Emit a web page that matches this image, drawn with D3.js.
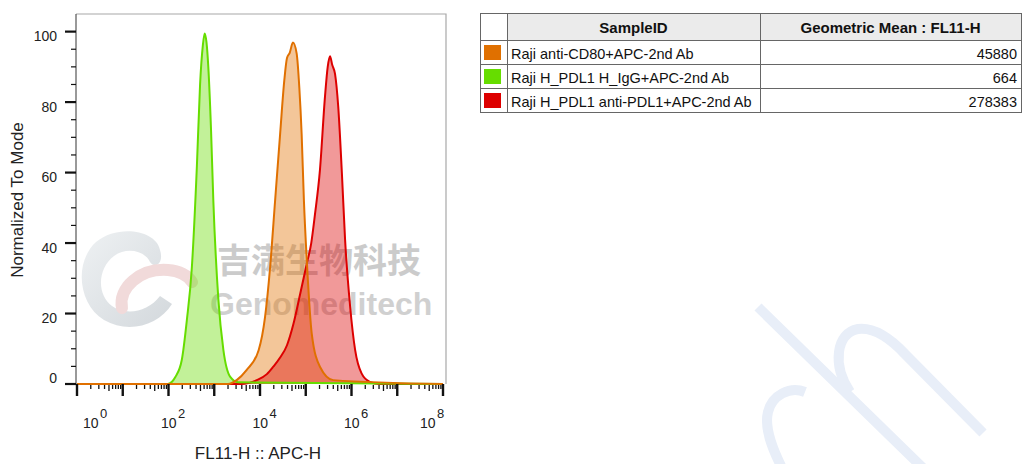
<!DOCTYPE html>
<html><head><meta charset="utf-8">
<script src="https://cdn.jsdelivr.net/npm/d3@7"></script>
<style>body{margin:0;background:#fff} svg{display:block;font-family:"Liberation Sans",Arial,Helvetica,sans-serif}</style>
</head><body><svg id="c" width="1024" height="464"></svg>
<script>
// ---- data ----
const samples = ["Raji anti-CD80+APC-2nd Ab", "Raji H_PDL1 H_IgG+APC-2nd Ab", "Raji H_PDL1 anti-PDL1+APC-2nd Ab"];
const geoMeans = [45880, 664, 278383];
const seriesColors = ["#e07000", "#66dd00", "#dd0000"];
const fillOpacity = [0.4, 0.4, 0.4];
// FL11-H channel positions as log10 exponents, with normalized-to-mode counts
const orangeExp = [0, 3.3, 3.49, 3.71, 3.97, 4.11, 4.22, 4.33, 4.44, 4.53, 4.59, 4.65, 4.72, 4.80, 4.86, 4.91, 4.96, 5.03, 5.13, 5.31, 5.6, 8];
const orangeVal = [0, 0, 1.1, 4, 9.6, 19, 33, 52, 71, 86, 92.5, 94, 96.9, 93.9, 84, 71, 52, 33.3, 14.4, 4.9, 1.1, 0];
const greenExp = [0, 1.98, 2.15, 2.29, 2.40, 2.51, 2.62, 2.69, 2.75, 2.79, 2.83, 2.87, 2.93, 2.98, 3.09, 3.20, 3.35, 3.52, 8];
const greenVal = [0, 0, 2, 6.8, 18, 33, 61.7, 85, 96, 99.5, 97, 90, 72, 52, 24, 9.6, 2, 0.5, 0];
const redExp = [0, 3.6, 3.93, 4.15, 4.29, 4.44, 4.59, 4.73, 4.88, 5.02, 5.12, 5.20, 5.31, 5.42, 5.48, 5.53, 5.58, 5.64, 5.71, 5.79, 5.86, 5.97, 6.08, 6.22, 6.40, 6.6, 8];
const redVal = [0, 0, 1.1, 2.8, 4.9, 7.5, 11, 17, 25.7, 34, 40, 48, 60.7, 81.5, 90, 93, 90.5, 88, 78.7, 59.8, 40.9, 22, 9.6, 3, 0.6, 0, 0];
const yTicks = [0, 20, 40, 60, 80, 100];
const xLabelExp = [0, 2, 4, 6, 8];
const xTitle = "FL11-H :: APC-H";
const yTitle = "Normalized To Mode";
const tableHeaders = ["SampleID", "Geometric Mean : FL11-H"];

// ---- chart ----
const svg = d3.select("#c");
const x = d3.scaleLog().domain([1, 1e8]).range([77, 443]);
const y = d3.scaleLinear().domain([0, 105]).range([384, 14]);

const series = [
  {exp: orangeExp, val: orangeVal, c: 0},
  {exp: greenExp, val: greenVal, c: 1},
  {exp: redExp, val: redVal, c: 2}
].map(s => ({c: s.c, pts: s.exp.map((e, i) => ({v: Math.pow(10, e), n: s.val[i]}))}));

// watermark (left logo + text)
const wm = svg.append("g");
const grad = svg.append("defs").append("linearGradient").attr("id", "lg").attr("x1", "0").attr("y1", "0").attr("x2", "1").attr("y2", "1");
grad.append("stop").attr("offset", "0").attr("stop-color", "#eef1f3");
grad.append("stop").attr("offset", "1").attr("stop-color", "#d3d8dc");
wm.append("path")
  .attr("d", "M160,250 C156,230 118,224 96,242 C74,262 78,304 104,320 C128,334 158,326 172,304 L160,296 C148,312 126,316 112,306 C96,294 98,268 114,256 C128,246 146,252 150,262 C156,270 164,262 160,250 Z")
  .attr("fill", "url(#lg)");
wm.append("path")
  .attr("d", "M122,308 C118,288 140,268 168,270 C180,271 188,276 192,282")
  .attr("fill", "none").attr("stroke", "#f1dada").attr("stroke-width", 12).attr("stroke-linecap", "round");
wm.append("text").attr("x", 217).attr("y", 273).attr("font-size", 34).attr("font-weight", "bold")
  .attr("font-family", "'Noto Sans CJK SC', sans-serif").attr("fill", "#999").attr("opacity", 0.5).text("吉满生物科技");
wm.append("text").attr("x", 210).attr("y", 315).attr("font-size", 32).attr("font-weight", "bold")
  .attr("fill", "#999").attr("opacity", 0.45).text("Genomeditech");

// bottom-right watermark strokes
const wm2 = svg.append("g").attr("fill", "none").attr("stroke", "#e8eef8").attr("stroke-width", 10);
wm2.append("path").attr("d", "M758,307 L925,470");
wm2.append("path").attr("d", "M850,392 C832,365 836,333 858,329 C874,327 890,338 905,354 L983,433");
wm2.append("path").attr("d", "M805,392 C790,386 772,395 768,412 C764,428 772,448 782,468");

// frame
svg.append("path").attr("d", "M76,14 H446 V384").attr("fill", "none").attr("stroke", "#a8a8a8").attr("stroke-width", 1.2);

const area = d3.area().x(d => x(d.v)).y0(y(0)).y1(d => y(d.n)).curve(d3.curveMonotoneX);
const line = d3.line().x(d => x(d.v)).y(d => y(d.n)).curve(d3.curveMonotoneX);

// fills
[1, 0, 2].forEach(i => {
  svg.append("path").datum(series[i].pts).attr("d", area)
    .attr("fill", seriesColors[series[i].c]).attr("fill-opacity", fillOpacity[series[i].c]);
});
// lines
[2, 1, 0].forEach(i => {
  svg.append("path").datum(series[i].pts).attr("d", line)
    .attr("fill", "none").attr("stroke", seriesColors[series[i].c]).attr("stroke-width", 2).attr("stroke-linejoin", "round");
});

// y axis
const yAxisG = svg.append("g");
yAxisG.append("line").attr("x1", 76).attr("x2", 76).attr("y1", 14).attr("y2", 385).attr("stroke", "#555").attr("stroke-width", 1.2);
const yMinor = d3.range(0, 105, 5).filter(v => v % 20 !== 0);
yAxisG.selectAll(".ym").data(yMinor).join("line")
  .attr("x1", 71).attr("x2", 76).attr("y1", d => y(d)).attr("y2", d => y(d)).attr("stroke", "#111").attr("stroke-width", 1.2);
yAxisG.selectAll(".yM").data(yTicks).join("line")
  .attr("x1", 65).attr("x2", 76).attr("y1", d => y(d)).attr("y2", d => y(d)).attr("stroke", "#111").attr("stroke-width", 2.2);
yAxisG.selectAll("text").data(yTicks).join("text")
  .attr("x", 57).attr("y", d => d === 0 ? y(d) - 1 : y(d) + 9.5)
  .attr("text-anchor", "end").attr("font-size", 14).attr("fill", "#222").text(d => d);

// x axis
const xAxisG = svg.append("g");
const decades = d3.range(0, 9);
const xMinor = [];
decades.slice(0, 8).forEach(e => { for (let k = 2; k <= 9; k++) xMinor.push({v: k * Math.pow(10, e), k}); });
xAxisG.selectAll(".xm").data(xMinor).join("line")
  .attr("x1", d => x(d.v)).attr("x2", d => x(d.v)).attr("y1", 385).attr("y2", d => d.k === 5 ? 391 : 389)
  .attr("stroke", "#111").attr("stroke-width", 1.3);
xAxisG.selectAll(".xM").data(decades).join("line")
  .attr("x1", d => x(Math.pow(10, d))).attr("x2", d => x(Math.pow(10, d))).attr("y1", 384).attr("y2", 396)
  .attr("stroke", "#111").attr("stroke-width", 2.4);
const xl = xAxisG.selectAll("text").data(xLabelExp).join("text")
  .attr("x", d => Math.max(83, Math.min(420, x(Math.pow(10, d)) - 7.5))).attr("y", 428)
  .attr("font-size", 14).attr("fill", "#222");
xl.append("tspan").text("10");
xl.append("tspan").attr("dx", 1.5).attr("dy", -10).attr("font-size", 13).text(d => d);

// axis titles
svg.append("text").attr("x", 258).attr("y", 459).attr("text-anchor", "middle").attr("font-size", 17).attr("fill", "#222").text(xTitle);
svg.append("text").attr("transform", "translate(23,200) rotate(-90)").attr("text-anchor", "middle").attr("font-size", 17).attr("fill", "#222").text(yTitle);

// ---- table ----
const colX = [480, 507, 760, 1021];
const rowY = [13, 40, 64, 88, 112];
const tbl = svg.append("g");
tbl.append("rect").attr("x", colX[1]).attr("y", rowY[0]).attr("width", colX[3] - colX[1]).attr("height", rowY[1] - rowY[0]).attr("fill", "#ebebeb");
rowY.forEach(ry => tbl.append("line").attr("x1", colX[0]).attr("x2", colX[3]).attr("y1", ry + 0.5).attr("y2", ry + 0.5).attr("stroke", "#666"));
colX.forEach(cx => tbl.append("line").attr("x1", cx + 0.5).attr("x2", cx + 0.5).attr("y1", rowY[0]).attr("y2", rowY[4] + 1).attr("stroke", "#666"));
tbl.append("text").attr("x", (colX[1] + colX[2]) / 2).attr("y", 33).attr("text-anchor", "middle").attr("font-size", 15).attr("font-weight", "bold").attr("fill", "#111").text(tableHeaders[0]);
tbl.append("text").attr("x", (colX[2] + colX[3]) / 2).attr("y", 33).attr("text-anchor", "middle").attr("font-size", 15).attr("font-weight", "bold").attr("fill", "#111").text(tableHeaders[1]);
samples.forEach((s, i) => {
  const top = rowY[i + 1];
  tbl.append("rect").attr("x", 484).attr("y", top + 5).attr("width", 17).attr("height", 15).attr("fill", seriesColors[i]);
  tbl.append("text").attr("x", 511).attr("y", top + 18.5).attr("font-size", 14.5).attr("fill", "#111").text(s);
  tbl.append("text").attr("x", 1017).attr("y", top + 18.5).attr("text-anchor", "end").attr("font-size", 14.5).attr("fill", "#111").text(geoMeans[i]);
});
</script></body></html>
